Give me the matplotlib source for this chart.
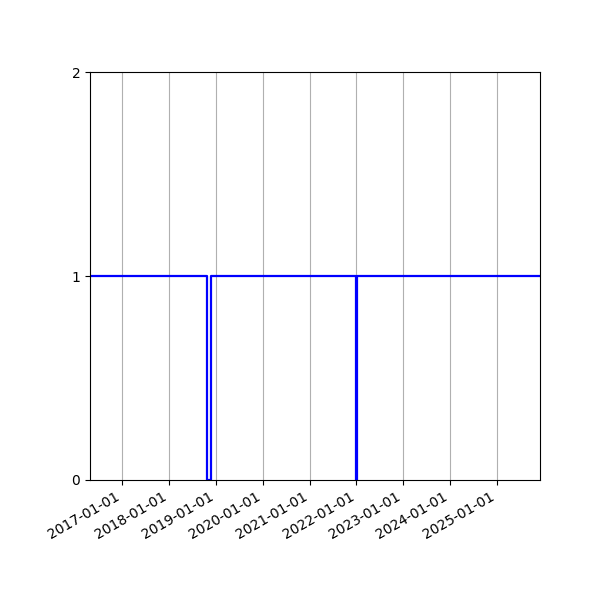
import numpy as np
import matplotlib
matplotlib.use("Agg")
import matplotlib.pyplot as plt
import matplotlib.dates as mdates

# status series (1 = up, 0 = down)
dates = np.array(['2016-04-27', '2018-10-27', '2018-11-24', '2021-12-31',
                  '2022-01-04', '2025-12-01'], dtype='datetime64[D]')
values = [1, 0, 1, 0, 1, 1]

fig, ax = plt.subplots(figsize=(6, 6), dpi=100)
fig.subplots_adjust(left=0.15, right=0.9, top=0.88, bottom=0.2)

ax.plot(dates, values, drawstyle='steps-post', color='blue', linewidth=1.6)

ax.set_xlim(dates[0], dates[-1])
ax.set_ylim(0, 2)
ax.set_yticks([0, 1, 2])
ax.xaxis.set_major_locator(mdates.YearLocator())
ax.xaxis.set_major_formatter(mdates.DateFormatter('%Y-%m-%d'))
ax.grid(True, axis='x')
plt.setp(ax.get_xticklabels(), rotation=30, ha='right')

fig.savefig('out.png')
